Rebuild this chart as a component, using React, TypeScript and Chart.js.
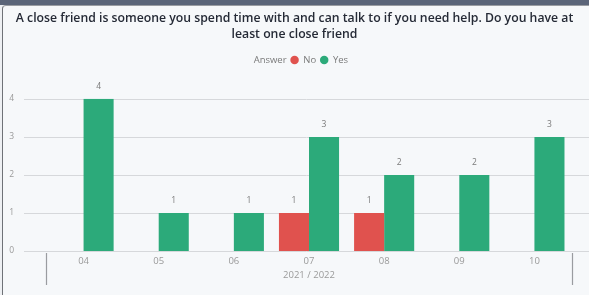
import { useEffect, useRef } from "react";
import { Chart, registerables } from "chart.js";

Chart.register(...registerables);

const categories = ["04", "05", "06", "07", "08", "09", "10"];
const seriesNames = ["No", "Yes"];
const noValues: (number | null)[] = [null, null, null, 1, 1, null, null];
const yesValues: (number | null)[] = [4, 1, 1, 3, 2, 2, 3];
const yTicks = [0, 1, 2, 3, 4];
const legendTitle = "Answer";
const axisTitle = "2021 / 2022";
const titleLines = [
  "A close friend is someone you spend time with and can talk to if you need help. Do you have at",
  "least one close friend",
];

const FONT = "'Segoe UI', 'Open Sans', sans-serif";
const RED = "#E0524E";
const GREEN = "#2CAA7A";

const gridPlugin = {
  id: "fullGrid",
  beforeDatasetsDraw(chart: any) {
    const { ctx } = chart;
    const y = chart.scales.y;
    ctx.save();
    ctx.strokeStyle = "#d6d8db";
    ctx.lineWidth = 1;
    yTicks.forEach((v) => {
      const py = Math.round(y.getPixelForValue(v)) + 0.5;
      ctx.beginPath();
      ctx.moveTo(24, py);
      ctx.lineTo(chart.width, py);
      ctx.stroke();
    });
    ctx.restore();
  },
};

const valueLabelPlugin = {
  id: "valueLabels",
  afterDatasetsDraw(chart: any) {
    const { ctx } = chart;
    ctx.save();
    ctx.font = `8.5px ${FONT}`;
    ctx.fillStyle = "#7a7a7a";
    ctx.textAlign = "center";
    ctx.textBaseline = "middle";
    chart.data.datasets.forEach((ds: any, i: number) => {
      const meta = chart.getDatasetMeta(i);
      meta.data.forEach((el: any, j: number) => {
        const v = ds.data[j];
        if (v == null) return;
        ctx.fillText(String(v), el.x, el.y - 12);
      });
    });
    ctx.restore();
  },
};

const separatorPlugin = {
  id: "separators",
  afterDraw(chart: any) {
    const { ctx, chartArea } = chart;
    const x = chart.scales.x;
    ctx.save();
    ctx.strokeStyle = "#9a9ca0";
    ctx.lineWidth = 1.2;
    [x.left, x.right].forEach((px: number) => {
      ctx.beginPath();
      ctx.moveTo(Math.round(px) + 0.5, chartArea.bottom + 2);
      ctx.lineTo(Math.round(px) + 0.5, chartArea.bottom + 34);
      ctx.stroke();
    });
    ctx.restore();
  },
};

const legendSpacePlugin = {
  id: "legendSpace",
  beforeLayout(chart: any) {
    const lg = chart.legend;
    if (lg && !lg.__patched) {
      const orig = lg.fit;
      lg.fit = function () {
        orig.call(this);
        this.height += 24;
      };
      lg.__patched = true;
    }
  },
};

export default function App() {
  const ref = useRef<HTMLCanvasElement | null>(null);

  useEffect(() => {
    if (!ref.current) return;
    const chart = new Chart(ref.current, {
      type: "bar",
      data: {
        labels: categories,
        datasets: [
          {
            label: seriesNames[0],
            data: noValues,
            backgroundColor: RED,
            barPercentage: 1,
            categoryPercentage: 0.8,
          },
          {
            label: seriesNames[1],
            data: yesValues,
            backgroundColor: GREEN,
            barPercentage: 1,
            categoryPercentage: 0.8,
          },
        ],
      },
      options: {
        responsive: false,
        animation: false,
        devicePixelRatio: 1,
        layout: { padding: { top: 0, left: 0, right: 0, bottom: 0 } },
        plugins: {
          title: {
            display: true,
            text: titleLines,
            color: "#252a36",
            font: { family: FONT, size: 12.25, weight: "600", lineHeight: 1.32 },
            padding: { top: 10, bottom: 9 },
          },
          legend: {
            display: true,
            position: "top",
            labels: {
              usePointStyle: true,
              pointStyle: "circle",
              boxWidth: 8,
              boxHeight: 6,
              padding: 4,
              color: "#7a7a7a",
              font: { family: FONT, size: 9.5 },
              generateLabels: (c: any) => {
                const items = Chart.defaults.plugins.legend.labels.generateLabels(c);
                return [
                  {
                    text: legendTitle,
                    fillStyle: "rgba(0,0,0,0)",
                    strokeStyle: "rgba(0,0,0,0)",
                    fontColor: "#7a7a7a",
                    lineWidth: 0,
                    hidden: false,
                    pointStyle: "circle",
                  } as any,
                  ...items.map((it: any) => ({ ...it, lineWidth: 0, fontColor: "#7a7a7a" })),
                ];
              },
            },
            onClick: () => {},
          },
          tooltip: { enabled: false },
        },
        scales: {
          x: {
            grid: { display: false, drawTicks: false },
            border: { display: false },
            ticks: {
              color: "#9a9a9a",
              font: { family: FONT, size: 9.5 },
              padding: 5,
              maxRotation: 0,
            },
            title: {
              display: true,
              text: axisTitle,
              color: "#9a9a9a",
              font: { family: FONT, size: 9.5 },
              padding: { top: 0, bottom: 14 },
            },
            afterFit: (s: any) => {
              s.height = 44;
            },
          },
          y: {
            min: 0,
            max: 4,
            grid: { display: false, drawTicks: false },
            border: { display: false },
            ticks: {
              stepSize: 1,
              color: "#9a9a9a",
              font: { family: FONT, size: 8.5 },
              padding: 32,
            },
            afterFit: (s: any) => {
              s.width = 46;
            },
          },
          yRightSpace: {
            position: "right",
            display: true,
            grid: { display: false, drawTicks: false },
            border: { display: false },
            ticks: { display: false },
            afterFit: (s: any) => {
              s.width = 17;
            },
          },
        },
      } as any,
      plugins: [gridPlugin, valueLabelPlugin, separatorPlugin, legendSpacePlugin],
    });
    return () => chart.destroy();
  }, []);

  return (
    <div
      style={{
        position: "fixed",
        left: 0,
        top: 0,
        width: 589,
        height: 295,
        background: "#eef0f3",
        overflow: "hidden",
      }}
    >
      <div style={{ position: "absolute", left: 0, top: 0, width: 589, height: 5, background: "#5b6579" }} />
      <div
        style={{
          position: "absolute",
          left: 2,
          top: 5,
          width: 600,
          height: 300,
          background: "#f6f8fa",
          borderLeft: "1px solid #6f7277",
          borderTop: "1px solid #9a9da2",
          borderTopLeftRadius: 4,
        }}
      />
      <canvas
        ref={ref}
        width={589}
        height={295}
        style={{ position: "absolute", left: 0, top: 0, display: "block" }}
      />
    </div>
  );
}
